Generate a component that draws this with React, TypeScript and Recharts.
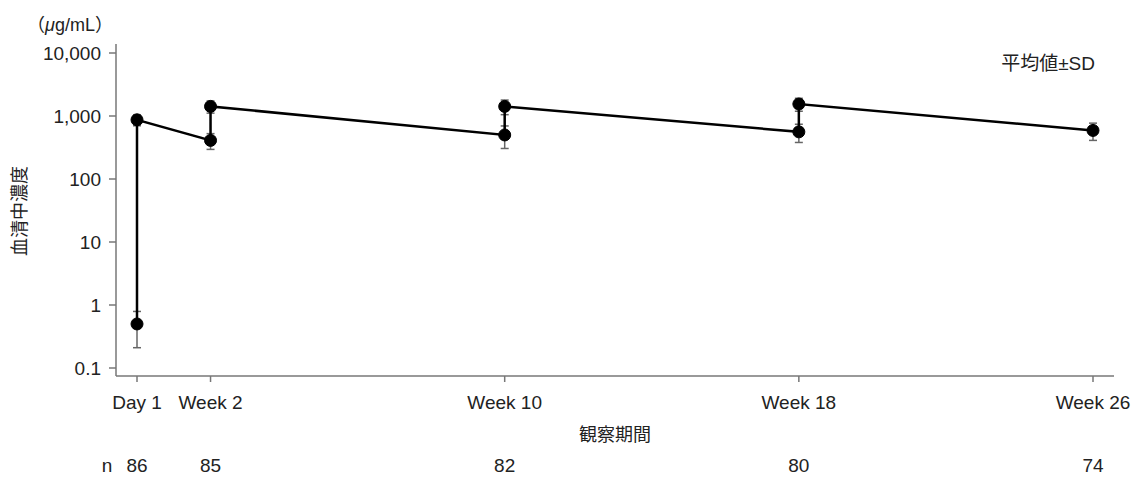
import { ErrorBar, Line, LineChart, XAxis, YAxis } from 'recharts';

// study weeks of each measurement (trough then peak at each visit)
const pointWeeks = [0, 0, 2, 2, 10, 10, 18, 18, 26];
const meanValues = [0.5, 870, 410, 1420, 500, 1420, 560, 1550, 590];
const sdValues = [0.29, 170, 115, 310, 195, 370, 180, 360, 180];

const visitWeeks = [0, 2, 10, 18, 26];
const visitLabels = ['Day 1', 'Week 2', 'Week 10', 'Week 18', 'Week 26'];
const visitCounts = [86, 85, 82, 80, 74];

const yTicks = [0.1, 1, 10, 100, 1000, 10000];

const FONT = '"Liberation Sans", "Noto Sans CJK JP", sans-serif';
const AXIS_GRAY = '#777';

const rows = pointWeeks.map((week, i) => ({ week, mean: meanValues[i], sd: sdValues[i] }));

function formatTick(value: number) {
  if (value < 1) return String(value);
  return value.toLocaleString('en-US');
}

function VisitTick(props: any) {
  const { x, y, payload } = props;
  const idx = visitWeeks.indexOf(payload.value);
  return (
    <g>
      <text x={x} y={y + 14} textAnchor="middle" fontSize={19} fill="#222" fontFamily={FONT}>
        {visitLabels[idx]}
      </text>
      <text x={x} y={y + 77} textAnchor="middle" fontSize={19} fill="#222" fontFamily={FONT}>
        {visitCounts[idx]}
      </text>
    </g>
  );
}

export default function App() {
  return (
    <div style={{ position: 'absolute', left: 0, top: 0, width: 1132, height: 477, background: '#fff' }}>
      <LineChart
        width={1132}
        height={477}
        data={rows}
        margin={{ top: 44, right: 18, bottom: 0, left: 0 }}
      >
        <XAxis
          dataKey="week"
          type="number"
          domain={[0, 26]}
          ticks={visitWeeks}
          tick={<VisitTick />}
          tickSize={6}
          tickMargin={13}
          padding={{ left: 21, right: 21 }}
          height={101}
          stroke={AXIS_GRAY}
          strokeWidth={1.5}
          interval={0}
        />
        <YAxis
          scale="log"
          domain={[0.1, 10000]}
          ticks={yTicks}
          allowDataOverflow
          tickFormatter={formatTick}
          tickSize={7}
          tickMargin={8}
          width={116}
          padding={{ top: 9, bottom: 8 }}
          stroke={AXIS_GRAY}
          strokeWidth={1.5}
          tick={{ fontSize: 19, fill: '#222', fontFamily: FONT }}
          interval={0}
        />
        <Line
          dataKey="mean"
          type="linear"
          stroke="#000"
          strokeWidth={2.5}
          dot={{ r: 6, fill: '#000', stroke: '#000', strokeWidth: 1 }}
          activeDot={false}
          isAnimationActive={false}
        >
          <ErrorBar dataKey="sd" direction="y" width={4} stroke="#666" strokeWidth={1.5} />
        </Line>
      </LineChart>
      <svg
        width={1132}
        height={477}
        style={{ position: 'absolute', left: 0, top: 0, pointerEvents: 'none' }}
        fontFamily={FONT}
      >
        <text x={27} y={31} fontSize={18} fill="#222">
          （<tspan fontStyle="italic">μ</tspan>g/mL）
        </text>
        <text
          x={20}
          y={211}
          fontSize={18}
          fill="#222"
          textAnchor="middle"
          dominantBaseline="central"
          transform="rotate(-90 20 211)"
        >
          血清中濃度
        </text>
        <text x={1095} y={70} fontSize={19} fill="#222" textAnchor="end">
          平均値±SD
        </text>
        <text x={615} y={441} fontSize={18} fill="#222" textAnchor="middle">
          観察期間
        </text>
        <text x={107} y={472} fontSize={19} fill="#222" textAnchor="middle">
          n
        </text>
      </svg>
    </div>
  );
}
